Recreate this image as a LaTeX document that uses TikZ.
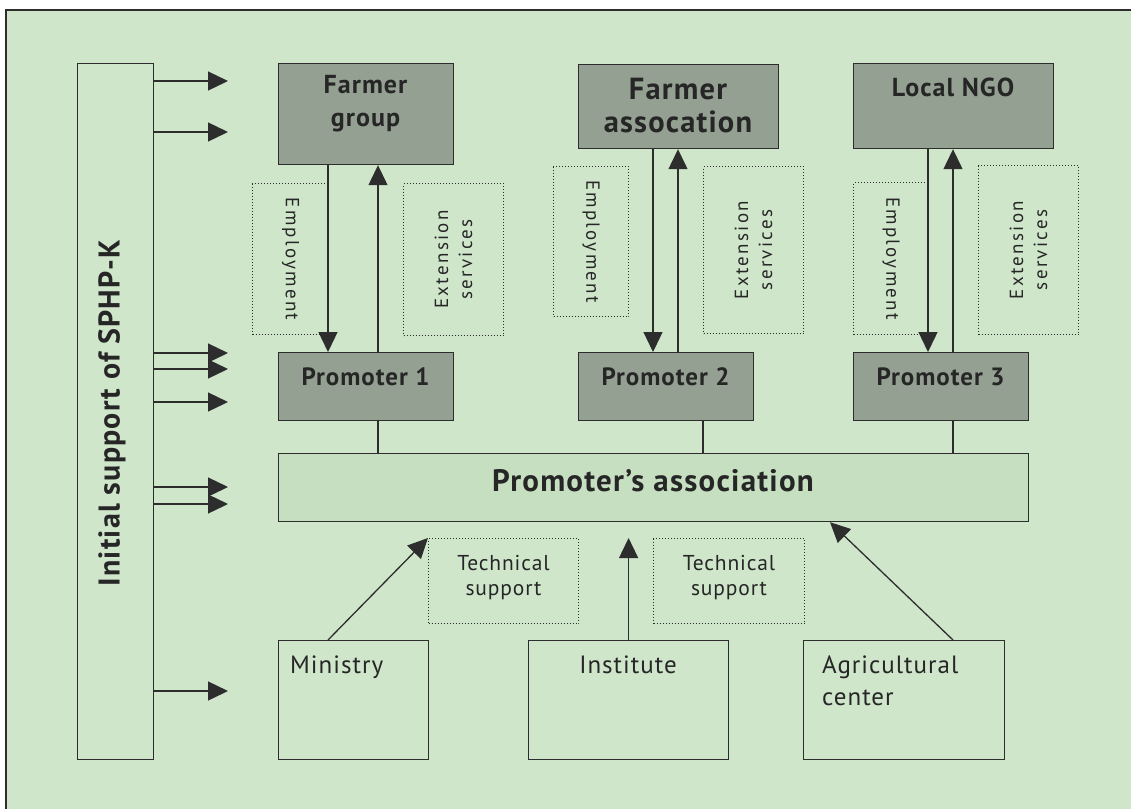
\documentclass[tikz,border=0pt]{standalone}
\usepackage{fontspec}
\setmainfont{PT Sans}
\usetikzlibrary{arrows.meta}
\definecolor{bg}{RGB}{207,230,203}
\definecolor{dark}{RGB}{148,161,146}
\definecolor{assoc}{RGB}{198,223,193}
\definecolor{ln}{RGB}{45,45,45}
\newcommand{\lsA}{\addfontfeature{LetterSpace=4}}
\newcommand{\lsB}{\addfontfeature{LetterSpace=12}}
\begin{document}
\begin{tikzpicture}[x=1pt,y=-1pt,
 box/.style={draw=ln, line width=1.2pt, inner sep=0pt, anchor=north west},
 darkbox/.style={box, fill=dark},
 lightbox/.style={box, fill=bg},
 dotbox/.style={draw=ln, line width=1pt, dotted, inner sep=0pt, anchor=north west},
 arr/.style={draw=ln, line width=1.3pt, -{Triangle[length=20pt,width=19pt]}},
 plain/.style={draw=ln, line width=1.2pt},
 txt/.style={inner sep=0pt, text=black!85},
]
\useasboundingbox (0,0) rectangle (1131,809);
\fill[white] (0,0) rectangle (1131,809);
\fill[bg] (6,10) rectangle (1131,809);
\draw[ln, line width=1.2pt] (6,809) -- (6,10) -- (1131,10);

% left tall box
\node[lightbox, minimum width=76pt, minimum height=696pt] (init) at (77,63) {};
\node[txt, rotate=90, font=\bfseries\fontsize{30}{34}\selectfont\lsA] (initT) at (112,413) {Initial support of SPHP-K};

% top boxes
\node[darkbox, minimum width=175pt, minimum height=101pt] (fg) at (278,63) {};
\node[darkbox, minimum width=200pt, minimum height=84pt] (fa) at (578,64) {};
\node[darkbox, minimum width=200pt, minimum height=85pt] (ngo) at (853,63) {};
\node[txt, align=center, font=\bfseries\fontsize{26}{33}\selectfont\lsA] (fgT) at (365.5,104) {Farmer\\group};
\node[txt, align=center, font=\bfseries\fontsize{30.5}{33}\selectfont\lsA] (faT) at (678,106) {Farmer\\assocation};
\node[txt, font=\bfseries\fontsize{26}{30}\selectfont\lsA] (ngoT) at (953,87) {Local NGO};

% promoters
\node[darkbox, minimum width=175pt, minimum height=68pt] (p1) at (278,352) {};
\node[darkbox, minimum width=175pt, minimum height=68pt] (p2) at (578,352) {};
\node[darkbox, minimum width=175pt, minimum height=68pt] (p3) at (853,352) {};
\node[txt, font=\bfseries\fontsize{25}{28}\selectfont\lsA] (p1T) at (365.5,377) {Promoter 1};
\node[txt, font=\bfseries\fontsize{25}{28}\selectfont\lsA] (p2T) at (665.5,377) {Promoter 2};
\node[txt, font=\bfseries\fontsize{25}{28}\selectfont\lsA] (p3T) at (940.5,377) {Promoter 3};

% association
\node[box, fill=assoc, minimum width=750pt, minimum height=68pt] (pa) at (278,453) {};
\node[txt, font=\bfseries\fontsize{31}{34}\selectfont\lsA] (paT) at (653,481) {Promoter’s association};

% bottom boxes
\node[lightbox, minimum width=150pt, minimum height=119pt] (min) at (278,640) {};
\node[lightbox, minimum width=200pt, minimum height=119pt] (inst) at (528,640) {};
\node[lightbox, minimum width=201pt, minimum height=119pt] (agr) at (803,640) {};
\node[txt, anchor=base west, font=\fontsize{25}{32}\selectfont\lsA] (minT) at (290,673) {Ministry};
\node[txt, anchor=base, font=\fontsize{25}{32}\selectfont\lsA] (instT) at (628,673) {Institute};
\node[txt, anchor=north west, align=left, font=\fontsize{25}{32}\selectfont\lsA] (agrT) at (822,656) {Agricultural\\center};

% dotted boxes
\node[dotbox, minimum width=76pt, minimum height=151pt] (e1) at (252,183) {};
\node[dotbox, minimum width=100pt, minimum height=152pt] (x1) at (403,183) {};
\node[dotbox, minimum width=75pt, minimum height=150pt] (e2) at (553,166) {};
\node[dotbox, minimum width=100pt, minimum height=167pt] (x2) at (703,166) {};
\node[dotbox, minimum width=75pt, minimum height=152pt] (e3) at (853,182) {};
\node[dotbox, minimum width=100pt, minimum height=169pt] (x3) at (978,165) {};
\node[dotbox, minimum width=150pt, minimum height=85pt] (t1) at (428,538) {};
\node[dotbox, minimum width=151pt, minimum height=85pt] (t2) at (653,538) {};

\node[txt, rotate=-90, font=\fontsize{19}{22}\selectfont\lsB] (e1T) at (e1.center) {Employment};
\node[txt, rotate=-90, font=\fontsize{19}{22}\selectfont\lsB] (e2T) at (e2.center) {Employment};
\node[txt, rotate=-90, font=\fontsize{19}{22}\selectfont\lsB] (e3T) at (e3.center) {Employment};
\node[txt, rotate=90, align=center, font=\fontsize{19}{24}\selectfont\lsB] (x1T) at (x1.center) {Extension\\services};
\node[txt, rotate=90, align=center, font=\fontsize{19}{24}\selectfont\lsB] (x2T) at (x2.center) {Extension\\services};
\node[txt, rotate=90, align=center, font=\fontsize{19}{24}\selectfont\lsB] (x3T) at (x3.center) {Extension\\services};
\node[txt, align=center, font=\fontsize{21.5}{25}\selectfont\lsA] (t1T) at ([yshift=3pt]t1.center) {Technical\\support};
\node[txt, align=center, font=\fontsize{21.5}{25}\selectfont\lsA] (t2T) at ([yshift=3pt]t2.center) {Technical\\support};

% vertical arrows top
\draw[arr] ([xshift=50pt]fg.south west) -- ([xshift=50pt]p1.north west);
\draw[arr] ([xshift=100pt]p1.north west) -- ([xshift=100pt]fg.south west);
\draw[arr] ([xshift=75pt]fa.south west) -- ([xshift=75pt]p2.north west);
\draw[arr] ([xshift=100pt]p2.north west) -- ([xshift=100pt]fa.south west);
\draw[arr] ([xshift=75pt]ngo.south west) -- ([xshift=75pt]p3.north west);
\draw[arr] ([xshift=100pt]p3.north west) -- ([xshift=100pt]ngo.south west);

% promoter connectors
\draw[plain] ([xshift=100pt]p1.south west) -- ([xshift=100pt]p1.south west |- pa.north);
\draw[plain] ([xshift=125pt]p2.south west) -- ([xshift=125pt]p2.south west |- pa.north);
\draw[plain] ([xshift=100pt]p3.south west) -- ([xshift=100pt]p3.south west |- pa.north);

% bottom arrows
\draw[arr] ([xshift=50pt]min.north west) -- (t1.north west);
\draw[arr] (inst.north) -- (inst.north |- t1.north);
\draw[arr] ([xshift=150pt]agr.north west) -- ([xshift=552pt]pa.south west);

% left arrows
\foreach \yy/\nm in {81/a1,132/a2,353/a3,369/a4,402/a5,487/a6,504/a7,691/a8}{
  \coordinate (\nm) at (228,\yy);
  \draw[arr] (init.east |- \nm) -- (\nm);
}
\end{tikzpicture}
\end{document}
